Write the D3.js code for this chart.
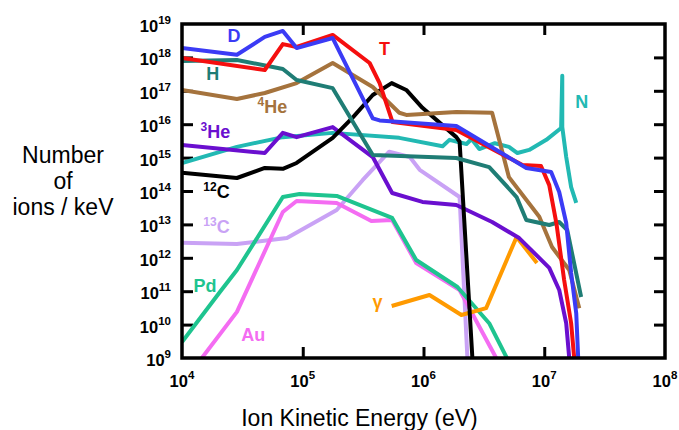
<!DOCTYPE html>
<html lang="en">
<head>
<meta charset="UTF-8">
<title>Ion energy spectra</title>
<script src="https://d3js.org/d3.v7.min.js"></script>
<style>
  body { margin: 0; background: #fff; }
  svg { display: block; font-family: "Liberation Sans", Arial, sans-serif; }
</style>
</head>
<body>
<svg width="679" height="430"></svg>
<script>
// tick values (decades)
let xTicks = [1e4, 1e5, 1e6, 1e7, 1e8];
let yTicks = [1e9, 1e10, 1e11, 1e12, 1e13, 1e14, 1e15, 1e16, 1e17, 1e18, 1e19];

// series: [ion kinetic energy (eV), number of ions / keV]
let dataD = [[1.0e4,1.9e18],[2.85e4,1.2e18],[4.85e4,4.1e18],[6.84e4,6.2e18],[8.9e4,1.9e18],[1.77e5,3.8e18],
  [3.8e5,1.5e16],[4.33e5,1.3e16],[1.87e6,8.8e15],[7.1e6,4.9e14],[1.14e7,3.7e14],[1.33e7,9.3e13],
  [1.52e7,1.1e13],[1.67e7,3.5e11],[1.84e7,2.2e10],[1.91e7,1.0e9]];
let dataT = [[1.0e4,9.6e17],[4.85e4,4.2e17],[6.84e4,2.5e18],[8.9e4,2.05e18],[1.77e5,4.7e18],[3.58e5,6.8e17],
  [4.33e5,1.7e17],[5.54e5,1.16e16],[1.87e6,6.7e15],[6.6e6,6.0e14],[9.4e6,5.6e14],[1.1e7,1.5e14],
  [1.26e7,1.1e13],[1.46e7,2.2e11],[1.67e7,1.1e10],[1.77e7,1.0e9]];
let dataH = [[1.0e4,7.8e17],[2.85e4,8.4e17],[6.84e4,4.5e17],[8.9e4,2.1e17],[1.77e5,1.2e17],[3.8e5,1.2e15],
  [1.87e6,9.7e14],[3.5e6,5.2e14],[5.9e6,6.6e13],[7.1e6,1.36e13],[1.1e7,9.6e12],[1.33e7,1.18e13],
  [1.55e7,6.8e12],[2.02e7,6.7e10]];
let data4He = [[1.0e4,1.06e17],[2.85e4,5.7e16],[4.85e4,8.6e16],[8.9e4,1.7e17],[1.77e5,6.8e17],[3.8e5,1.3e17],
  [6.3e5,2.2e16],[7.2e5,1.9e16],[1.87e6,2.3e16],[3.7e6,2.2e16],[5.1e6,2.6e14],[9.1e6,1.7e13],
  [1.16e7,2.1e12],[1.61e7,4.3e11],[1.95e7,3.1e10]];
let data3He = [[1.0e4,2.4e15],[4.85e4,1.37e15],[6.84e4,5.5e15],[8.9e4,4.1e15],[1.77e5,8.2e15],[3.8e5,1.04e15],
  [5.5e5,8.7e13],[9.8e5,4.7e13],[1.87e6,3.8e13],[3.7e6,1.18e13],[6.2e6,3.9e12],[1.1e7,5.0e11],
  [1.33e7,1.09e11],[1.52e7,1.1e10],[1.61e7,1.0e9]];
let dataN = [[1.0e4,6.9e14],[2.85e4,2.1e15],[6.84e4,4.1e15],[1.77e5,5.5e15],[6.3e5,3.9e15],[1.44e6,2.2e15],
  [1.64e6,3.4e15],[2.27e6,2.55e15],[2.5e6,3.6e15],[2.9e6,1.8e15],[3.9e6,2.7e15],[5.1e6,2.1e15],
  [6.0e6,1.37e15],[7.5e6,1.7e15],[1.04e7,3.4e15],[1.38e7,7.7e15],[1.41e7,2.8e17],[1.41e7,8.2e15],
  [1.52e7,1.04e15],[1.67e7,1.3e14],[1.84e7,4.4e13]];
let data12C = [[1.0e4,3.5e14],[2.85e4,2.45e14],[4.85e4,4.9e14],[6.84e4,4.6e14],[8.9e4,6.9e14],[1.77e5,3.9e15],
  [2.6e5,1.6e16],[3.8e5,7.5e16],[5.45e5,1.7e17],[7.2e5,1.06e17],[9.8e5,3.1e16],[1.87e6,4.1e15],
  [1.99e6,3.0e15],[2.54e6,1.0e9]];
let data13C = [[1.0e4,2.8e12],[2.85e4,2.6e12],[7.4e4,3.9e12],[1.91e5,2.7e13],[3.13e5,2.1e14],[5.2e5,1.5e15],
  [7.7e5,1.04e15],[9.3e5,4.3e14],[1.99e6,6.6e13],[2.31e6,1.0e9]];
let dataPd = [[1.0e4,3.0e9],[2.06e4,9.5e10],[2.85e4,4.3e11],[6.84e4,6.6e13],[9.4e4,8.1e13],[1.91e5,7.1e13],
  [5.5e5,1.56e13],[8.7e5,8.6e11],[1.91e6,1.34e11],[3.5e6,1.1e10],[4.9e6,1.0e9]];
let dataAu = [[1.46e4,1.0e9],[2.85e4,2.4e10],[6.84e4,2.35e13],[8.9e4,5.0e13],[1.91e5,4.4e13],[3.7e5,1.26e13],
  [5.5e5,1.36e13],[8.7e5,7.0e11],[1.99e6,1.09e11],[4.0e6,1.0e9]];
let dataGamma = [[5.45e5,3.6e10],[1.12e6,7.7e10],[2.06e6,1.94e10],[3.3e6,3.1e10],[5.9e6,4.2e12],[8.7e6,7.0e11]];

// drawing order, colours and where each curve's name sits (in data units)
let series = [
  {sup:"13", base:"C",  color:"#c9a2f5", data:data13C,   at:[1.93e4,5.5e12]},
  {sup:"",   base:"Au", color:"#f46cf2", data:dataAu,    at:[3.9e4,3.2e9]},
  {sup:"",   base:"Pd", color:"#1ec48f", data:dataPd,    at:[1.55e4,9.5e10]},
  {sup:"",   base:"γ",  color:"#ff9a00", data:dataGamma, at:[4.17e5,3.1e10]},
  {sup:"",   base:"N",  color:"#22b9b3", data:dataN,     at:[2.04e7,3.05e16]},
  {sup:"3",  base:"He", color:"#6a0fcf", data:data3He,   at:[1.89e4,3.9e15]},
  {sup:"12", base:"C",  color:"#000000", data:data12C,   at:[1.93e4,6.2e13]},
  {sup:"4",  base:"He", color:"#a5733d", data:data4He,   at:[5.6e4,2.16e16]},
  {sup:"",   base:"H",  color:"#1f7d75", data:dataH,     at:[1.8e4,2.1e17]},
  {sup:"",   base:"T",  color:"#f50f0f", data:dataT,     at:[4.76e5,1.18e18]},
  {sup:"",   base:"D",  color:"#3b3bf5", data:dataD,     at:[2.69e4,2.9e18]}
];

let svg = d3.select("svg");
let plot = {left:182, right:665, top:24, bottom:358};

let x = d3.scaleLog().domain([1e4, 1e8]).range([plot.left, plot.right]);
let y = d3.scaleLog().domain([1e9, 1e19]).range([plot.bottom, plot.top]);

svg.append("clipPath").attr("id", "clip")
  .append("rect")
  .attr("x", plot.left).attr("y", plot.top)
  .attr("width", plot.right - plot.left).attr("height", plot.bottom - plot.top);

// inward ticks on all four sides
function styleAxis(g) {
  g.select(".domain").remove();
  g.selectAll(".tick line").attr("stroke", "#000").attr("stroke-width", 3);
}
let innerX = xTicks.slice(1, -1), innerY = yTicks.slice(1, -1);
svg.append("g").attr("transform", "translate(0," + plot.bottom + ")")
  .call(d3.axisBottom(x).tickValues(innerX).tickSize(-11).tickFormat("")).call(styleAxis);
svg.append("g").attr("transform", "translate(0," + plot.top + ")")
  .call(d3.axisTop(x).tickValues(innerX).tickSize(-11).tickFormat("")).call(styleAxis);
svg.append("g").attr("transform", "translate(" + plot.left + ",0)")
  .call(d3.axisLeft(y).tickValues(innerY).tickSize(-11).tickFormat("")).call(styleAxis);
svg.append("g").attr("transform", "translate(" + plot.right + ",0)")
  .call(d3.axisRight(y).tickValues(innerY).tickSize(-11).tickFormat("")).call(styleAxis);

// curves
let line = d3.line().x(d => x(d[0])).y(d => y(d[1]));
svg.append("g").attr("clip-path", "url(#clip)")
  .selectAll("path").data(series).enter().append("path")
  .attr("d", d => line(d.data))
  .attr("fill", "none")
  .attr("stroke", d => d.color)
  .attr("stroke-width", 4)
  .attr("stroke-linejoin", "round");

// frame
svg.append("rect")
  .attr("x", plot.left).attr("y", plot.top)
  .attr("width", plot.right - plot.left).attr("height", plot.bottom - plot.top)
  .attr("fill", "none").attr("stroke", "#000").attr("stroke-width", 3.5);

// tick labels 10^n
function power(sel) {
  sel.append("tspan").attr("font-size", 16.5).text("10");
  sel.append("tspan").attr("font-size", 11.5).attr("dy", -8).text(d => Math.round(Math.log10(d)));
}
svg.selectAll(".xlab").data(xTicks).enter().append("text")
  .attr("class", "xlab")
  .attr("x", d => x(d)).attr("y", plot.bottom + 29)
  .attr("text-anchor", "middle").attr("font-weight", "bold")
  .call(power);
svg.selectAll(".ylab").data(yTicks).enter().append("text")
  .attr("class", "ylab")
  .attr("x", plot.left - 11).attr("y", d => y(d) + 8)
  .attr("text-anchor", "end").attr("font-weight", "bold")
  .call(power);

// curve names
let names = svg.selectAll(".name").data(series).enter().append("text")
  .attr("class", "name")
  .attr("x", d => x(d.at[0])).attr("y", d => y(d.at[1]))
  .attr("text-anchor", "middle").attr("font-weight", "bold")
  .attr("fill", d => d.color);
names.filter(d => d.sup).append("tspan").attr("font-size", 12).attr("dy", -7).text(d => d.sup);
names.append("tspan").attr("font-size", 18).attr("dy", d => d.sup ? 7 : 0).text(d => d.base);

// axis titles
svg.append("text").attr("x", (plot.left + plot.right) / 2 - 64).attr("y", 426)
  .attr("text-anchor", "middle").attr("font-size", 23)
  .text("Ion Kinetic Energy (eV)");
let ytitle = svg.append("text").attr("text-anchor", "middle").attr("font-size", 23);
["Number", "of", "ions / keV"].forEach((t, i) => {
  ytitle.append("tspan").attr("x", 63).attr("y", 163 + i * 26).text(t);
});
</script>
</body>
</html>
